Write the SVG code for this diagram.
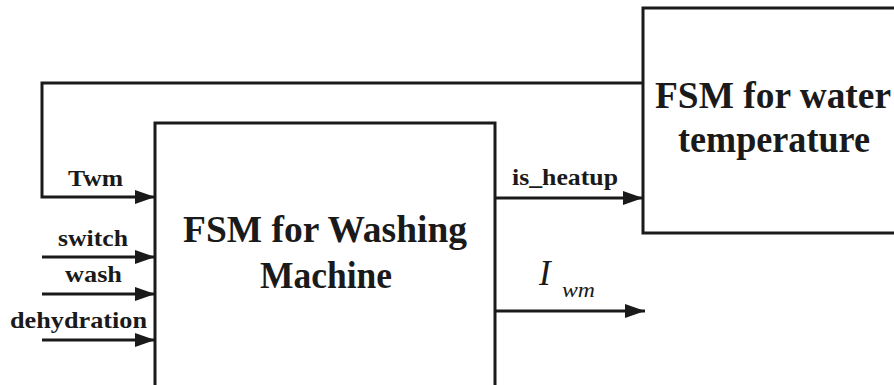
<svg xmlns="http://www.w3.org/2000/svg" width="894" height="385" viewBox="0 0 894 385">
<style>
.box{fill:#fff;stroke:#1a1a1a;stroke-width:3}
.ln{fill:none;stroke:#1a1a1a;stroke-width:3}
.t{font-family:"Liberation Serif","Times New Roman",serif;font-weight:bold;fill:#1a1a1a}
.title{font-size:37px;text-anchor:middle}
.lbl{font-size:24px}
.math{font-family:"Liberation Serif","Times New Roman",serif;font-style:italic;fill:#1a1a1a}
</style>
<defs>
<marker id="arr" markerWidth="20" markerHeight="14" refX="20" refY="7" orient="auto" markerUnits="userSpaceOnUse">
<path d="M0,0 L20,7 L0,14 Z" fill="#1a1a1a"/>
</marker>
</defs>
<rect width="894" height="385" fill="#fff"/>
<g id="node-washing">
<rect class="box" x="155" y="123" width="340" height="270"/>
<text class="t title" x="325" y="242" textLength="284" lengthAdjust="spacingAndGlyphs">FSM for Washing</text>
<text class="t title" x="326" y="288" textLength="132" lengthAdjust="spacingAndGlyphs">Machine</text>
</g>
<g id="node-water">
<rect class="box" x="643" y="8" width="260" height="225"/>
<text class="t title" x="773" y="108" textLength="236" lengthAdjust="spacingAndGlyphs">FSM for water</text>
<text class="t title" x="774" y="152" textLength="192" lengthAdjust="spacingAndGlyphs">temperature</text>
</g>
<g id="connectors">
<polyline class="ln" points="643,83 42,83 42,197 155,197" marker-end="url(#arr)"/>
<line class="ln" x1="42" y1="257" x2="155" y2="257" marker-end="url(#arr)"/>
<line class="ln" x1="42" y1="294" x2="155" y2="294" marker-end="url(#arr)"/>
<line class="ln" x1="42" y1="340" x2="155" y2="340" marker-end="url(#arr)"/>
<line class="ln" x1="495" y1="198" x2="643" y2="198" marker-end="url(#arr)"/>
<line class="ln" x1="495" y1="311" x2="645" y2="311" marker-end="url(#arr)"/>
<text class="t lbl" x="68" y="186" textLength="55" lengthAdjust="spacingAndGlyphs">Twm</text>
<text class="t lbl" x="58" y="246" textLength="70" lengthAdjust="spacingAndGlyphs">switch</text>
<text class="t lbl" x="65" y="282" textLength="57" lengthAdjust="spacingAndGlyphs">wash</text>
<text class="t lbl" x="10" y="328" textLength="137" lengthAdjust="spacingAndGlyphs">dehydration</text>
<text class="t lbl" x="512" y="185" textLength="106" lengthAdjust="spacingAndGlyphs">is_heatup</text>
<text class="math" x="539" y="285" font-size="35">I</text>
<text class="math" x="562" y="297" font-size="20" textLength="33" lengthAdjust="spacingAndGlyphs">wm</text>
</g>
</svg>
